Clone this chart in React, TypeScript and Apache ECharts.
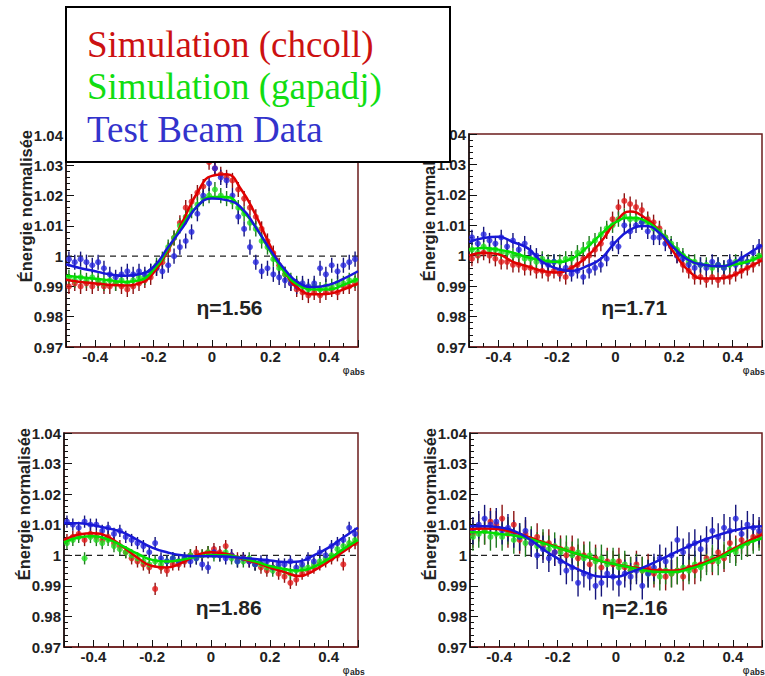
import React, { useEffect, useRef } from "react";
import * as echarts from "echarts";

// ---------- data ----------
const phiBins = [
  -0.49, -0.47, -0.45, -0.43, -0.41, -0.39, -0.37, -0.35, -0.33, -0.31,
  -0.29, -0.27, -0.25, -0.23, -0.21, -0.19, -0.17, -0.15, -0.13, -0.11,
  -0.09, -0.07, -0.05, -0.03, -0.01, 0.01, 0.03, 0.05, 0.07, 0.09,
  0.11, 0.13, 0.15, 0.17, 0.19, 0.21, 0.23, 0.25, 0.27, 0.29,
  0.31, 0.33, 0.35, 0.37, 0.39, 0.41, 0.43, 0.45, 0.47, 0.49,
];
const phiFit = [
  -0.5, -0.45, -0.4, -0.35, -0.3, -0.25, -0.2, -0.15, -0.1, -0.05, 0,
  0.05, 0.1, 0.15, 0.2, 0.25, 0.3, 0.35, 0.4, 0.45, 0.5,
];
const etaLabels = ["η=1.56", "η=1.71", "η=1.86", "η=2.16"];
const legendNames = ["Simulation (chcoll)", "Simulation (gapadj)", "Test Beam Data"];
const errBars = [0.0025, 0.0025, 0.002, 0.0045];
const refLevel = 1;

// eta = 1.56
const p1Red = [0.990,0.991,0.990,0.991,0.990,0.991,0.990,0.990,0.991,0.990, 0.989,0.990,0.991,0.992,0.993,0.996,0.998,1.002,1.006,1.011, 1.016,1.018,1.021,1.023,1.031,1.029,1.027,1.026,1.025,1.022, 1.019,1.016,1.013,1.009,1.005,1.001,0.997,0.994,0.991,0.989, 0.988,0.987,0.988,0.987,0.988,0.989,0.988,0.990,0.990,0.991];
const p1Green = [0.993,0.992,0.993,0.992,0.993,0.992,0.991,0.992,0.991,0.992, 0.991,0.992,0.993,0.993,0.995,0.997,0.999,1.003,1.006,1.010, 1.013,1.015,1.017,1.019,1.020,1.022,1.020,1.019,1.018,1.016, 1.014,1.011,1.009,1.005,1.003,0.999,0.996,0.994,0.992,0.991, 0.990,0.989,0.990,0.989,0.990,0.990,0.991,0.991,0.992,0.992];
const p1Blue = [0.999,0.998,0.999,0.998,0.997,0.998,0.996,0.994,0.993,0.994, 0.995,0.994,0.995,0.994,0.995,0.996,0.995,0.997,1.000,1.003, 1.005,1.008,1.014,1.020,1.024,1.029,1.026,1.025,1.020,1.013, 1.009,1.003,0.998,0.995,0.996,0.994,0.993,0.992,0.991,0.990, 0.991,0.990,0.991,0.996,0.994,0.997,0.995,0.997,0.998,0.999];
const p1RedFit = [0.9922,0.9915,0.991,0.9905,0.9903,0.991,0.9945,1.002,1.0115,1.021,1.0265,1.027,1.022,1.0135,1.0033,0.9945,0.989,0.9874,0.9876,0.989,0.991];
const p1GreenFit = [0.9935,0.993,0.9925,0.992,0.9915,0.992,0.9955,1.0025,1.0105,1.0165,1.0195,1.0195,1.0155,1.0095,1.0015,0.9945,0.9903,0.989,0.989,0.9905,0.9925];
const p1BlueFit = [0.9973,0.996,0.995,0.994,0.9935,0.994,0.9965,1.003,1.0095,1.0165,1.019,1.0185,1.016,1.0095,1.002,0.9955,0.991,0.9898,0.9905,0.9925,0.995];

// eta = 1.71
const p2Red = [0.999,1.000,1.001,1.000,0.999,0.998,0.998,0.997,0.997,0.996, 0.996,0.995,0.995,0.994,0.995,0.994,0.993,0.996,0.997,0.999, 1.000,1.002,1.004,1.008,1.012,1.016,1.018,1.017,1.016,1.015, 1.012,1.011,1.009,1.006,1.003,1.000,0.997,0.995,0.993,0.993, 0.992,0.993,0.992,0.993,0.993,0.994,0.995,0.996,0.997,0.999];
const p2Green = [1.002,1.001,1.003,1.002,1.002,1.001,1.001,1.000,1.000,0.999, 0.999,0.998,0.999,0.998,0.998,0.998,0.999,0.999,1.001,1.002, 1.004,1.005,1.007,1.009,1.010,1.012,1.013,1.012,1.012,1.011, 1.011,1.009,1.008,1.006,1.004,1.002,1.000,0.998,0.998,0.997, 0.997,0.996,0.997,0.996,0.997,0.998,0.998,0.998,0.999,1.000];
const p2Blue = [1.006,1.004,1.007,1.005,1.004,1.006,1.003,1.005,1.002,1.004, 1.001,1.000,0.998,0.997,0.998,0.995,0.996,0.994,0.995,0.993, 0.995,0.996,0.997,0.999,1.004,1.003,1.010,1.008,1.010,1.011, 1.008,1.006,1.006,1.004,1.003,1.000,0.999,0.997,0.996,0.997, 0.996,0.998,0.997,0.996,0.998,0.997,0.999,0.998,1.001,1.003];
const p2RedFit = [1.0,1.001,1.0005,0.998,0.9965,0.995,0.9945,0.996,0.9995,1.0045,1.011,1.0145,1.0125,1.008,1.001,0.995,0.9925,0.9925,0.9935,0.996,0.9985];
const p2GreenFit = [1.002,1.0025,1.002,1.001,0.9995,0.9985,0.998,0.999,1.0025,1.007,1.011,1.0125,1.0115,1.008,1.003,0.999,0.997,0.9965,0.997,0.998,1.0];
const p2BlueFit = [1.0045,1.0058,1.0062,1.0045,1.0025,0.998,0.9958,0.995,0.9965,0.999,1.0045,1.0085,1.0098,1.0075,1.0025,0.9985,0.997,0.9965,0.9975,1.0005,1.0035];

// eta = 1.86
const p3Red = [1.005,1.006,1.007,1.005,1.007,1.006,1.005,1.006,1.004,1.003, 1.001,0.999,0.998,0.997,0.996,0.989,0.996,0.995,0.997,0.997, 0.998,1.000,1.001,1.000,1.001,1.002,1.001,1.003,1.000,0.999, 0.999,0.998,0.997,0.996,0.995,0.996,0.994,0.993,0.991,0.992, 0.994,0.995,0.996,0.997,0.998,0.999,1.000,0.997,1.003,1.004];
const p3Green = [1.004,1.005,1.006,0.999,1.006,1.005,1.004,1.005,1.003,1.002, 1.001,1.000,0.999,0.998,0.997,0.998,0.997,0.998,0.999,0.998, 0.999,1.000,0.999,1.000,1.001,1.000,1.000,1.001,0.999,0.998, 0.998,0.999,0.997,0.997,0.996,0.995,0.996,0.995,0.994,0.995, 0.996,0.996,0.997,0.998,0.999,1.000,1.002,1.003,1.004,1.005];
const p3Blue = [1.011,1.010,1.009,1.011,1.010,1.010,1.008,1.009,1.007,1.008, 1.006,1.005,1.004,1.003,1.001,1.004,0.999,0.998,0.999,0.998, 0.999,0.998,0.999,0.997,0.996,1.001,1.000,0.999,1.000,0.998, 0.999,0.998,0.997,0.998,0.998,0.996,0.997,0.997,0.998,0.996, 0.997,0.999,0.998,1.001,1.000,1.003,1.004,1.005,1.009,1.007];
const p3RedFit = [1.005,1.0068,1.0072,1.006,1.0028,0.9992,0.9965,0.996,0.9975,1.0,1.001,1.0005,0.999,0.9977,0.996,0.9945,0.9932,0.995,0.998,1.0012,1.0045];
const p3GreenFit = [1.0042,1.0058,1.0062,1.0052,1.003,1.0005,0.9985,0.998,0.9985,0.9995,1.0,1.0,0.9992,0.998,0.9965,0.9955,0.995,0.9962,0.9988,1.002,1.005];
const p3BlueFit = [1.0105,1.0105,1.0098,1.0088,1.0075,1.005,1.0025,1.001,1.0,0.9997,0.9997,0.9996,0.9992,0.9988,0.9983,0.9978,0.998,1.0,1.0025,1.0058,1.009];

// eta = 2.16
const p4Red = [1.007,1.009,1.008,1.011,1.010,1.012,1.007,1.010,1.005,1.007, 1.004,1.006,1.003,1.004,1.001,1.002,1.000,1.002,0.999,1.000, 0.997,0.999,0.996,0.998,0.997,0.998,0.996,0.995,0.997,0.995, 0.996,0.994,0.995,0.993,0.994,0.995,0.993,0.996,0.995,0.997, 0.999,0.998,1.001,0.999,1.004,1.002,1.005,1.004,1.006,1.007];
const p4Green = [1.006,1.007,1.008,1.006,1.007,1.006,1.008,1.005,1.006,1.004, 1.005,1.003,1.004,1.002,1.003,1.001,1.002,1.000,1.001,0.999, 1.000,0.998,0.999,0.997,0.998,0.996,0.997,0.995,0.996,0.995, 0.994,0.995,0.993,0.995,0.994,0.995,0.996,0.995,0.997,0.996, 0.998,0.999,0.998,1.000,1.002,1.001,1.003,1.004,1.005,1.006];
const p4Blue = [1.008,1.010,1.012,1.010,1.011,1.008,1.009,1.007,1.006,1.008, 1.004,1.000,1.002,0.999,1.001,0.998,0.995,0.996,0.991,0.994, 0.993,0.990,0.991,0.994,0.993,0.991,0.994,0.993,0.995,0.990, 0.994,0.996,0.999,0.998,1.000,1.005,1.001,1.003,1.004,1.002, 1.005,1.008,1.006,1.009,1.008,1.012,1.007,1.010,1.009,1.008];
const p4RedFit = [1.0085,1.0088,1.0085,1.0075,1.006,1.0043,1.0027,1.001,0.9995,0.998,0.997,0.9962,0.9955,0.995,0.995,0.996,0.9975,0.9995,1.002,1.0045,1.0068];
const p4GreenFit = [1.0075,1.0075,1.007,1.0065,1.0055,1.004,1.0025,1.001,0.9995,0.998,0.997,0.996,0.995,0.9945,0.9945,0.9955,0.997,0.999,1.0015,1.004,1.0055];
const p4BlueFit = [1.0095,1.0095,1.0092,1.008,1.0055,1.002,0.999,0.9963,0.9942,0.993,0.993,0.9945,0.9963,0.9985,1.0008,1.003,1.005,1.0066,1.008,1.009,1.0095];

// ---------- styling ----------
const SERIES_STYLE = [
  { mark: "#e01818", err: "#8c1212", fit: "#e00000", legend: "#cc1111" },
  { mark: "#22dd22", err: "#1f7a1f", fit: "#00e000", legend: "#11dd11" },
  { mark: "#2424dd", err: "#14147a", fit: "#1818d8", legend: "#3333cc" },
];
const GRIDS = [
  { left: 66, top: 135, width: 292, height: 212 },
  { left: 469, top: 134, width: 295, height: 213 },
  { left: 64, top: 433, width: 294, height: 214 },
  { left: 470, top: 433, width: 294, height: 214 },
];
const SANS = "'Liberation Sans', Arial, Helvetica, sans-serif";
const FRAME = "#6b1d1d";

export default function App() {
  const ref = useRef<HTMLDivElement>(null);

  useEffect(() => {
    if (!ref.current) return;
    const chart = echarts.init(ref.current, null, { renderer: "svg" });

    const panels = [
      { pts: [p1Red, p1Green, p1Blue], fits: [p1RedFit, p1GreenFit, p1BlueFit] },
      { pts: [p2Red, p2Green, p2Blue], fits: [p2RedFit, p2GreenFit, p2BlueFit] },
      { pts: [p3Red, p3Green, p3Blue], fits: [p3RedFit, p3GreenFit, p3BlueFit] },
      { pts: [p4Red, p4Green, p4Blue], fits: [p4RedFit, p4GreenFit, p4BlueFit] },
    ];

    const grid = GRIDS.map((g) => ({
      ...g,
      show: true,
      borderColor: FRAME,
      borderWidth: 1.5,
      backgroundColor: "#fff",
    }));

    const labelCommon = {
      fontSize: 15,
      fontWeight: "bold" as const,
      fontFamily: SANS,
      color: "#222",
      showMinLabel: true,
      showMaxLabel: true,
    };

    const xAxis = GRIDS.map((_, i) => ({
      type: "value",
      gridIndex: i,
      min: -0.5,
      max: 0.5,
      interval: 0.1,
      axisLine: { show: true, onZero: false, lineStyle: { color: FRAME, width: 1.5 } },
      axisTick: { show: true, inside: true, length: 7, lineStyle: { color: "#111", width: 1 } },
      minorTick: { show: true, splitNumber: 2, length: 4, lineStyle: { color: "#111", width: 1 } },
      splitLine: { show: false },
      axisLabel: {
        ...labelCommon,
        margin: 2,
        formatter: (v: number) => {
          const r = Math.round(v * 10);
          return r % 2 === 0 && Math.abs(r) < 5 ? String(+(r / 10).toFixed(1)) : "";
        },
      },
    }));

    const yAxis = GRIDS.map((_, i) => ({
      type: "value",
      gridIndex: i,
      min: 0.97,
      max: 1.04,
      interval: 0.01,
      axisLine: { show: true, onZero: false, lineStyle: { color: "#111", width: 1.5 } },
      axisTick: { show: true, inside: true, length: 8, lineStyle: { color: "#111", width: 1 } },
      minorTick: { show: true, splitNumber: 5, length: 4, lineStyle: { color: "#111", width: 1 } },
      splitLine: { show: false },
      axisLabel: {
        ...labelCommon,
        margin: 3,
        formatter: (v: number) => String(+v.toFixed(2)),
      },
    }));

    const series: any[] = [];
    panels.forEach((p, i) => {
      series.push({
        type: "line",
        xAxisIndex: i,
        yAxisIndex: i,
        data: [[-0.5, refLevel], [0.5, refLevel]],
        symbol: "none",
        lineStyle: { color: "#222", width: 1.2, type: [6, 5] },
        z: 1,
        silent: true,
      });
      p.pts.forEach((arr, k) => {
        const st = SERIES_STYLE[k];
        const e = errBars[i];
        series.push({
          type: "custom",
          xAxisIndex: i,
          yAxisIndex: i,
          clip: true,
          z: 2,
          data: phiBins.map((x, j) => [x, arr[j], e]),
          renderItem: (_params: any, api: any) => {
            const x = api.value(0);
            const y = api.value(1);
            const er = api.value(2);
            const a = api.coord([x, y - er]);
            const b = api.coord([x, y + er]);
            return {
              type: "line",
              shape: { x1: a[0], y1: a[1], x2: b[0], y2: b[1] },
              style: { stroke: st.err, lineWidth: 1.4 },
            };
          },
        });
        series.push({
          type: "scatter",
          xAxisIndex: i,
          yAxisIndex: i,
          symbol: "circle",
          symbolSize: 6,
          itemStyle: { color: st.mark },
          z: 3,
          data: phiBins.map((x, j) => [x, arr[j]]),
        });
      });
      p.fits.forEach((arr, k) => {
        const st = SERIES_STYLE[k];
        series.push({
          type: "line",
          xAxisIndex: i,
          yAxisIndex: i,
          smooth: true,
          symbol: "none",
          showSymbol: false,
          lineStyle: { color: st.fit, width: 2.5 },
          z: 4,
          data: phiFit.map((x, j) => [x, arr[j]]),
        });
      });
    });

    const graphic: any[] = [];
    GRIDS.forEach((g, i) => {
      const right = g.left + g.width;
      const bottom = g.top + g.height;
      const absLeft = Math.min(right - 8, 750);
      graphic.push({
        type: "text",
        x: g.left - 40,
        y: g.top - 5,
        rotation: Math.PI / 2,
        z: 50,
        style: {
          text: "Énergie normalisée",
          fontSize: 16.5,
          fontWeight: "bold",
          fontFamily: SANS,
          fill: "#222",
          align: "right",
          verticalAlign: "middle",
        },
      });
      graphic.push({
        type: "text",
        x: g.left + 0.56 * g.width,
        y: g.top + 0.815 * g.height,
        z: 50,
        style: {
          text: etaLabels[i],
          fontSize: 21,
          fontWeight: "bold",
          fontFamily: SANS,
          fill: "#222",
          align: "center",
          verticalAlign: "middle",
        },
      });
      graphic.push({
        type: "text",
        x: absLeft - 4,
        y: bottom + 23,
        z: 50,
        style: {
          text: "φ",
          fontSize: 11,
          fontFamily: "'DejaVu Sans', sans-serif",
          fill: "#222",
          align: "center",
          verticalAlign: "middle",
        },
      });
      graphic.push({
        type: "text",
        x: absLeft,
        y: bottom + 25,
        z: 50,
        style: {
          text: "abs",
          fontSize: 8.5,
          fontWeight: "bold",
          fontFamily: SANS,
          fill: "#222",
          align: "left",
          verticalAlign: "middle",
        },
      });
    });

    // legend box
    graphic.push({
      type: "rect",
      z: 100,
      shape: { x: 66, y: 7, width: 384, height: 155 },
      style: { fill: "#fff", stroke: "#000", lineWidth: 2 },
    });
    legendNames.forEach((name, k) => {
      graphic.push({
        type: "text",
        z: 101,
        x: 87,
        y: 44 + k * 42.5,
        style: {
          text: name,
          fontSize: 37,
          fontFamily: "'Liberation Serif', 'Times New Roman', serif",
          fill: SERIES_STYLE[k].legend,
          align: "left",
          verticalAlign: "middle",
        },
      });
    });

    chart.setOption({
      animation: false,
      backgroundColor: "#fff",
      grid,
      xAxis,
      yAxis,
      series,
      graphic,
    });

    return () => chart.dispose();
  }, []);

  return (
    <div
      ref={ref}
      style={{ position: "absolute", left: 0, top: 0, width: 765, height: 676 }}
    />
  );
}
